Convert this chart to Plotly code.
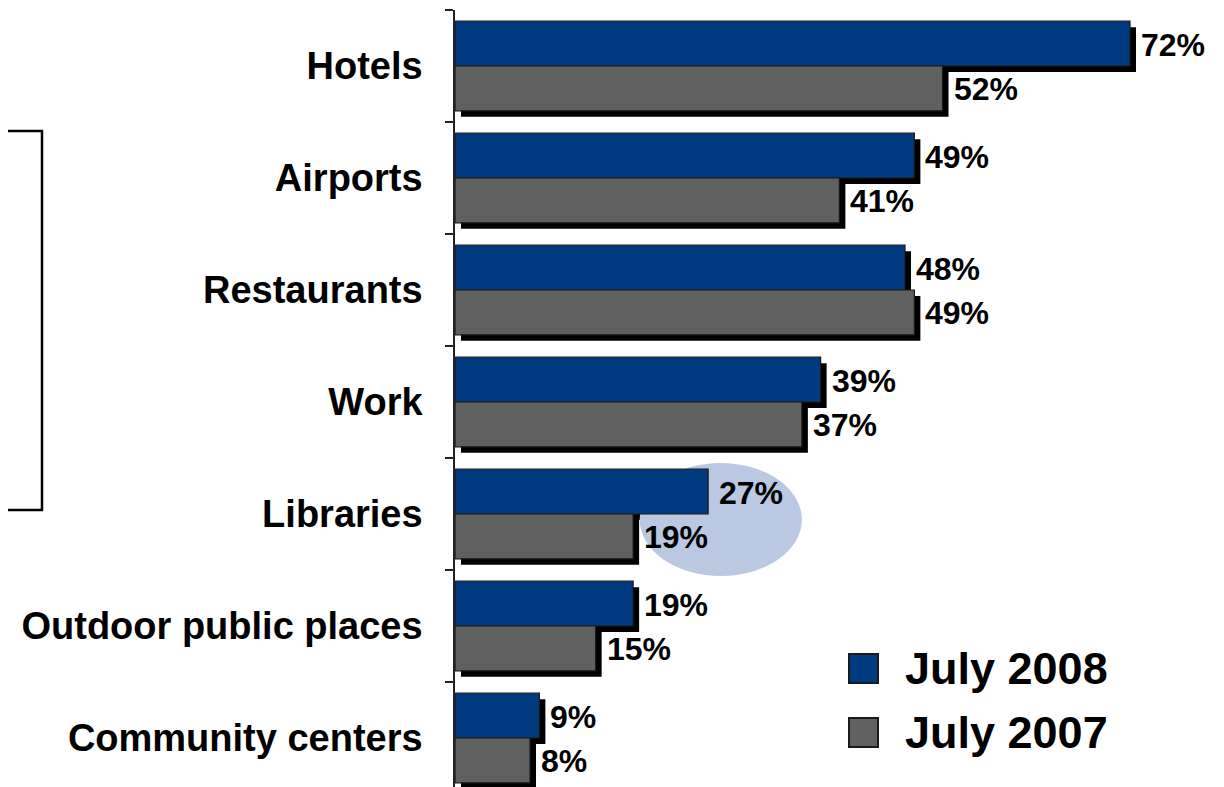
import plotly.graph_objects as go

categories = ["Hotels", "Airports", "Restaurants", "Work", "Libraries",
              "Outdoor public places", "Community centers"]
july_2008 = [72, 49, 48, 39, 27, 19, 9]
july_2007 = [52, 41, 49, 37, 19, 15, 8]
series_names = ["July 2008", "July 2007"]
series_values = [july_2008, july_2007]
series_colors = ["#003A80", "#606060"]

OFF = 8                     # page body margin
W, H = 1224 - OFF, 787 - OFF
x_left = 455 - OFF          # pixel of value 0 (figure coords)
px_per_unit = 9.375         # pixels per percentage point
shadow = 6                  # shadow offset in px
top = 10 - OFF
cat_px = 112

x_hi = (W - x_left) / px_per_unit
xs_hi = (W - x_left - shadow) / px_per_unit
y_hi = -0.5 + (H - top) / cat_px
ys_hi = y_hi - shadow / cat_px

FONT = "Liberation Sans, Arial, sans-serif"


def px(x):
    return (x - OFF) / W


def py(y):
    return 1 - (y - OFF) / H


fig = go.Figure()

# shadows (drawn first, on shifted axes)
for vals in series_values:
    fig.add_trace(go.Bar(
        y=categories, x=vals, orientation="h",
        marker=dict(color="black", line=dict(width=0)),
        xaxis="x", yaxis="y", showlegend=False, hoverinfo="skip"))

# real bars
for name, vals, col in zip(series_names, series_values, series_colors):
    fig.add_trace(go.Bar(
        y=categories, x=vals, orientation="h", name=name,
        marker=dict(color=col, line=dict(color="#1a1a1a", width=1.2)),
        xaxis="x2", yaxis="y2", showlegend=False))

annotations = []
for s, vals in enumerate(series_values):
    off = -0.2 if s == 0 else 0.2
    for i, v in enumerate(vals):
        annotations.append(dict(
            x=v, y=i + off, xref="x2", yref="y2", text=f"{v}%",
            showarrow=False, xanchor="left", yanchor="middle",
            xshift=9, yshift=-1,
            font=dict(family=FONT, size=32, color="black", weight="bold")))

# legend (manual, large swatches)
leg_rows = [(654, 683), (718, 747)]
shapes = []
for (ya, yb), name, col in zip(leg_rows, series_names, series_colors):
    shapes.append(dict(type="rect", xref="paper", yref="paper",
                       x0=px(849), x1=px(878), y0=py(yb), y1=py(ya),
                       fillcolor=col, line=dict(color="#1a1a1a", width=2)))
    annotations.append(dict(
        x=px(903), y=py((ya + yb) / 2), xref="paper", yref="paper",
        text=name, showarrow=False, xanchor="left", yanchor="middle",
        font=dict(family=FONT, size=45, color="black", weight="bold")))

# highlight ellipse around Libraries
shapes.append(dict(type="circle", xref="x2", yref="y2", layer="below",
                   x0=19.7, x1=37.0, y0=3.545, y1=4.554,
                   fillcolor="#bac8e1", line=dict(width=0)))

# left bracket box
shapes.append(dict(type="rect", xref="paper", yref="paper",
                   x0=-0.02, x1=px(42), y0=py(510), y1=py(131),
                   line=dict(color="black", width=2.5)))

fig.update_layout(
    width=W, height=H, autosize=False,
    margin=dict(l=0, r=0, t=0, b=0),
    paper_bgcolor="white", plot_bgcolor="rgba(0,0,0,0)",
    barmode="group", bargap=0.2, bargroupgap=0,
    showlegend=False,
    xaxis=dict(domain=[(x_left + shadow) / W, 1], range=[0, xs_hi],
               visible=False, fixedrange=True),
    yaxis=dict(domain=[0, (H - top - shadow) / H], range=[ys_hi, -0.5],
               type="category", categoryorder="array", categoryarray=categories,
               visible=False, fixedrange=True),
    xaxis2=dict(domain=[x_left / W, 1], range=[0, x_hi],
                visible=False, fixedrange=True, anchor="y2"),
    yaxis2=dict(domain=[0, (H - top) / H], range=[y_hi, -0.5],
                anchor="x2", type="category", categoryorder="array",
                categoryarray=categories,
                showline=True, linecolor="#222", linewidth=1.5,
                ticks="outside", tickson="boundaries", ticklen=8,
                tickcolor="#222", tickwidth=1.5, showgrid=False,
                ticklabelstandoff=23,
                tickfont=dict(family=FONT, size=38, color="black", weight="bold"),
                fixedrange=True),
    shapes=shapes,
    annotations=annotations,
)

fig.write_html("out.html")
